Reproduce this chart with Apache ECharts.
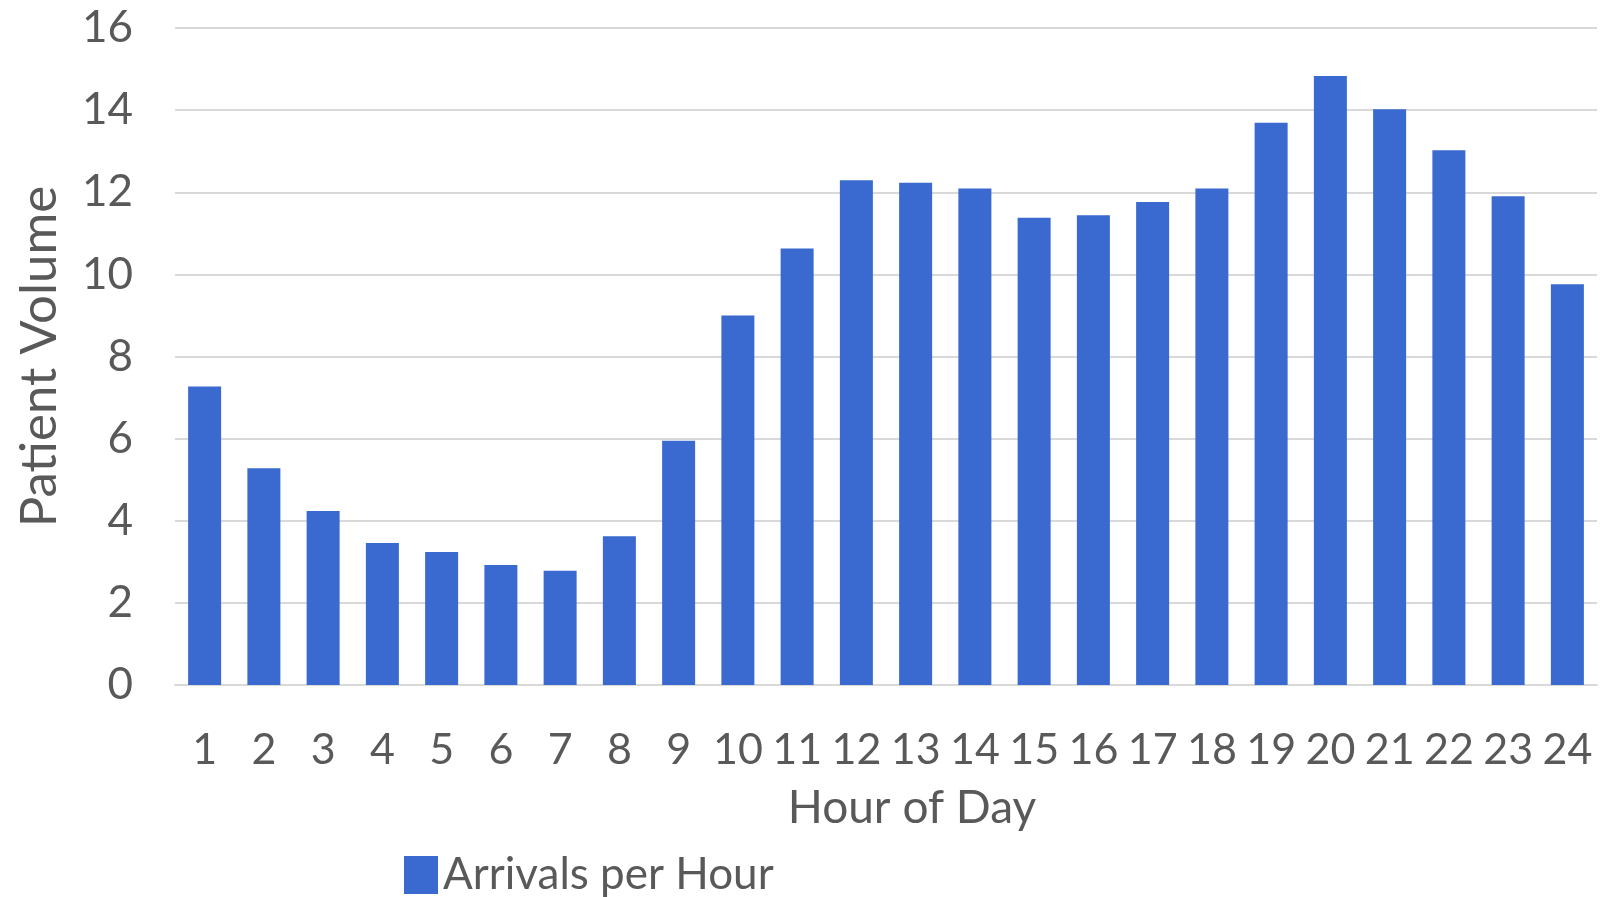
<!DOCTYPE html>
<html>
<head>
<meta charset="utf-8">
<script src="https://cdn.jsdelivr.net/npm/echarts@6/dist/echarts.min.js"></script>
<style>
  html, body { margin: 0; padding: 0; background: #ffffff; }
  #chart { width: 1600px; height: 897px; }
</style>
</head>
<body>
<div id="chart"></div>
<script>
// Hourly patient arrivals
const hours = ['1','2','3','4','5','6','7','8','9','10','11','12',
               '13','14','15','16','17','18','19','20','21','22','23','24'];
const arrivals = [7.27, 5.28, 4.24, 3.46, 3.24, 2.92, 2.78, 3.62, 5.95, 9.0, 10.63, 12.29,
                  12.23, 12.09, 11.38, 11.44, 11.76, 12.09, 13.69, 14.83, 14.02, 13.02, 11.9, 9.76];
const yTicks = { min: 0, max: 16, step: 2 };

const textColor = '#595959';
const gridColor = '#d9d9d9';
const barColor = '#3a69cf';
const fontFamily = 'Lato, "Liberation Sans", sans-serif';

const chart = echarts.init(document.getElementById('chart'), null, { renderer: 'canvas' });

chart.setOption({
  backgroundColor: '#ffffff',
  animation: false,
  grid: { left: 175, right: 3, top: 28, bottom: 212, containLabel: false, outerBoundsMode: 'none' },
  legend: {
    left: 399,
    top: 848,
    itemWidth: 34,
    itemHeight: 38,
    itemGap: 10,
    icon: 'rect',
    textStyle: { color: textColor, fontSize: 44, fontFamily: fontFamily },
    data: ['Arrivals per Hour']
  },
  xAxis: {
    type: 'category',
    data: hours,
    name: 'Hour of Day',
    nameLocation: 'middle',
    nameGap: 100,
    nameTextStyle: { color: textColor, fontSize: 46, fontFamily: fontFamily, padding: [0, 0, 0, 52] },
    axisLine: { show: true, lineStyle: { color: gridColor, width: 2 } },
    axisTick: { show: false },
    axisLabel: { color: textColor, fontSize: 43, fontFamily: fontFamily, margin: 44, interval: 0 }
  },
  yAxis: {
    type: 'value',
    min: yTicks.min,
    max: yTicks.max,
    interval: yTicks.step,
    name: 'Patient Volume',
    nameLocation: 'middle',
    nameGap: 110,
    nameRotate: 90,
    nameTextStyle: { color: textColor, fontSize: 51, fontFamily: fontFamily },
    axisLine: { show: false },
    axisTick: { show: false },
    axisLabel: { color: textColor, fontSize: 44, fontFamily: fontFamily, margin: 42 },
    splitLine: { show: true, lineStyle: { color: gridColor, width: 2 } }
  },
  series: [{
    name: 'Arrivals per Hour',
    type: 'bar',
    data: arrivals,
    barWidth: 33,
    itemStyle: { color: barColor }
  }]
});
</script>
</body>
</html>
